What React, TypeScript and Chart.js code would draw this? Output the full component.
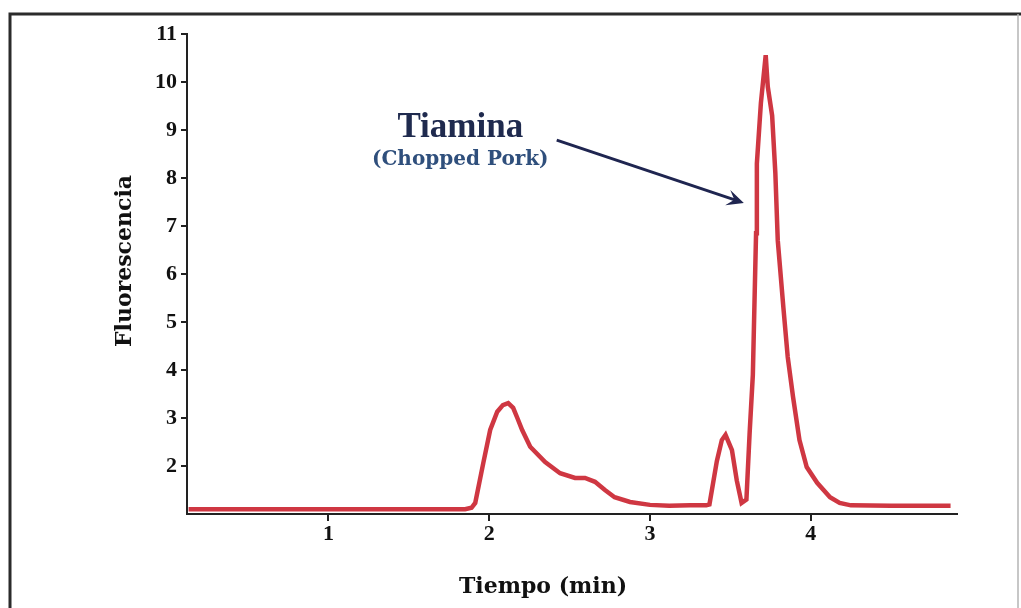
import React, { useEffect, useRef } from 'react';
import { Chart, registerables } from 'chart.js';

Chart.register(...registerables);

// ---- data ----
const timeMin = [
  0.13, 0.5, 1.0, 1.5, 1.85, 1.89, 1.913, 1.963, 2.006, 2.05, 2.085, 2.118, 2.149, 2.175, 2.205,
  2.255, 2.348, 2.441, 2.534, 2.596, 2.658, 2.72, 2.78, 2.876, 3.0, 3.12, 3.25, 3.35,
  3.37, 3.416, 3.447, 3.47, 3.51, 3.54, 3.57, 3.6, 3.62, 3.64, 3.66, 3.665, 3.69, 3.72,
  3.733, 3.76, 3.78, 3.795, 3.83, 3.857, 3.89, 3.93, 3.975, 4.04, 4.12, 4.18, 4.25, 4.5, 4.87,
];
const fluorescence = [
  1.1, 1.1, 1.1, 1.1, 1.1, 1.13, 1.23, 2.06, 2.75, 3.13, 3.27, 3.31, 3.21, 3.0, 2.75,
  2.4, 2.08, 1.85, 1.75, 1.75, 1.67, 1.5, 1.35, 1.25, 1.19, 1.17, 1.18, 1.18,
  1.2, 2.1, 2.54, 2.65, 2.33, 1.7, 1.23, 1.3, 2.69, 3.9, 6.85, 8.3, 9.56, 10.56,
  9.9, 9.3, 8.1, 6.7, 5.3, 4.27, 3.44, 2.54, 1.98, 1.65, 1.35, 1.23, 1.18, 1.17, 1.17,
];
const xTickValues = [1, 2, 3, 4];
const yTickValues = [2, 3, 4, 5, 6, 7, 8, 9, 10, 11];
const xTitle = 'Tiempo (min)';
const yTitle = 'Fluorescencia';
const peakLabel = 'Tiamina';
const peakSubLabel = '(Chopped Pork)';

// annotation anchors in data coordinates
const labelAt = { x: 1.82, y: 8.85 };
const subLabelAt = { x: 1.82, y: 8.27 };
const arrowFrom = { x: 2.42, y: 8.79 };
const arrowTo = { x: 3.584, y: 7.48 };

const decor = {
  id: 'decor',
  beforeDraw(chart: any) {
    const ctx = chart.ctx as CanvasRenderingContext2D;
    ctx.save();
    ctx.fillStyle = '#ffffff';
    ctx.fillRect(0, 0, chart.width, chart.height);
    ctx.strokeStyle = '#2b2b2b';
    ctx.lineWidth = 3;
    ctx.beginPath();
    ctx.moveTo(10, chart.height + 5);
    ctx.lineTo(10, 14);
    ctx.lineTo(chart.width, 14);
    ctx.stroke();
    ctx.strokeStyle = '#b5b5b5';
    ctx.lineWidth = 1.5;
    ctx.beginPath();
    ctx.moveTo(1018, 14);
    ctx.lineTo(1018, chart.height);
    ctx.stroke();
    ctx.restore();
  },
  afterDraw(chart: any) {
    const ctx = chart.ctx as CanvasRenderingContext2D;
    const xs = chart.scales.x;
    const ys = chart.scales.y;
    const px = (p: { x: number; y: number }) => [xs.getPixelForValue(p.x), ys.getPixelForValue(p.y)];
    ctx.save();
    // axis titles
    ctx.fillStyle = '#111111';
    ctx.font = 'bold 22px "DejaVu Serif", serif';
    ctx.textAlign = 'center';
    ctx.textBaseline = 'alphabetic';
    ctx.fillText(xTitle, 543, 593);
    ctx.save();
    ctx.translate(131, 261);
    ctx.rotate(-Math.PI / 2);
    ctx.fillText(yTitle, 0, 0);
    ctx.restore();

    // peak annotation
    const [lx, ly] = px(labelAt);
    ctx.fillStyle = '#1f2a4e';
    ctx.font = 'bold 35px "Liberation Serif", serif';
    ctx.fillText(peakLabel, lx, ly);
    const [sx, sy] = px(subLabelAt);
    ctx.fillStyle = '#2f4f7c';
    ctx.font = 'bold 20px "DejaVu Serif", serif';
    ctx.fillText(peakSubLabel, sx, sy);

    const [ax, ay] = px(arrowFrom);
    const [bx, by] = px(arrowTo);
    const ang = Math.atan2(by - ay, bx - ax);
    const headLen = 17;
    const headW = 8;
    ctx.strokeStyle = '#1f2550';
    ctx.fillStyle = '#1f2550';
    ctx.lineWidth = 3;
    ctx.beginPath();
    ctx.moveTo(ax, ay);
    ctx.lineTo(bx - Math.cos(ang) * 8, by - Math.sin(ang) * 8);
    ctx.stroke();
    ctx.beginPath();
    ctx.moveTo(bx, by);
    ctx.lineTo(
      bx - Math.cos(ang) * headLen + Math.sin(ang) * headW,
      by - Math.sin(ang) * headLen - Math.cos(ang) * headW,
    );
    ctx.lineTo(bx - Math.cos(ang) * 10, by - Math.sin(ang) * 10);
    ctx.lineTo(
      bx - Math.cos(ang) * headLen - Math.sin(ang) * headW,
      by - Math.sin(ang) * headLen + Math.cos(ang) * headW,
    );
    ctx.closePath();
    ctx.fill();
    ctx.restore();
  },
};

export default function App() {
  const ref = useRef<HTMLCanvasElement | null>(null);
  useEffect(() => {
    if (!ref.current) return;
    const tickFont = { family: '"Liberation Serif", serif', weight: 'bold' as const, size: 22 };
    const chart = new Chart(ref.current, {
      type: 'line',
      data: {
        datasets: [
          {
            data: timeMin.map((t, i) => ({ x: t, y: fluorescence[i] })),
            borderColor: '#cf3742',
            borderWidth: 4.5,
            pointRadius: 0,
            tension: 0,
            fill: false,
          },
        ],
      },
      options: {
        animation: false,
        responsive: false,
        devicePixelRatio: 1,
        layout: { padding: { left: 0, right: 64, top: 34, bottom: 0 } },
        plugins: { legend: { display: false }, tooltip: { enabled: false } },
        scales: {
          x: {
            type: 'linear',
            min: 0.12,
            max: 4.91,
            afterFit: (s: any) => {
              s.height = 94;
            },
            afterBuildTicks: (s: any) => {
              s.ticks = xTickValues.map((v) => ({ value: v }));
            },
            grid: { display: true, drawOnChartArea: false, drawTicks: true, tickLength: 7, color: '#222', lineWidth: 2 },
            border: { display: true, color: '#222', width: 2 },
            ticks: { font: tickFont, color: '#111', padding: 0, maxRotation: 0, autoSkip: false },
          },
          y: {
            type: 'linear',
            min: 1,
            max: 11,
            afterFit: (s: any) => {
              s.width = 187;
            },
            afterBuildTicks: (s: any) => {
              s.ticks = yTickValues.map((v) => ({ value: v }));
            },
            grid: { display: true, drawOnChartArea: false, drawTicks: true, tickLength: 6, color: '#222', lineWidth: 2 },
            border: { display: true, color: '#222', width: 2 },
            ticks: { font: tickFont, color: '#111', padding: 4, autoSkip: false },
          },
        },
      },
      plugins: [decor],
    });
    return () => chart.destroy();
  }, []);
  return (
    <div style={{ position: 'absolute', left: 0, top: 0, width: 1021, height: 608 }}>
      <canvas ref={ref} width={1021} height={608} style={{ display: 'block' }} />
    </div>
  );
}
